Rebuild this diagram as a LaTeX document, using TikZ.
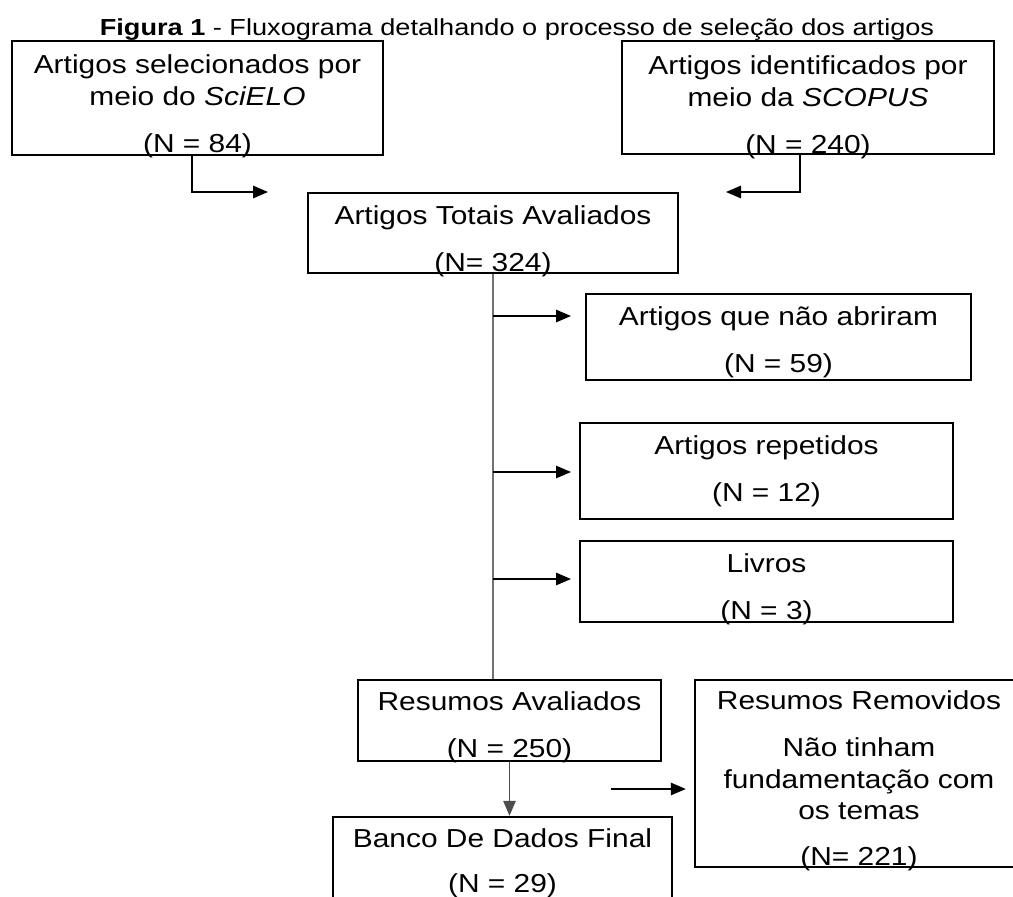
\documentclass[tikz,border=0pt]{standalone}
\usepackage{fontspec}
\setmainfont{Liberation Sans}
\usetikzlibrary{arrows.meta,positioning,calc}
\tikzset{
    >={Triangle[length=15pt,width=12.5pt]},
    caixa/.style={draw, line width=2.4pt, inner sep=0pt},
    texto/.style={anchor=north, inner sep=0pt, align=center, xscale=1.15,
        font=\fontsize{26}{31.5}\selectfont},
    seta/.style={->, line width=1.4pt},
    tronco/.style={line width=1.8pt, draw=black!55}
}
\begin{document}
\begin{tikzpicture}[x=1pt,y=-1pt]
    \useasboundingbox (0,0) rectangle (1013,897);
    \clip (0,0) rectangle (1013,897);

    \node[anchor=base, inner sep=0pt, xscale=1.17, font=\fontsize{23.2}{27}\selectfont] (titulo) at (517,35)
        {\textbf{Figura 1} - Fluxograma detalhando o processo de seleção dos artigos};

    % caixas
    \node[caixa, minimum width=371pt, minimum height=114pt] (scielo) at (197.5,98) {};
    \node[caixa, minimum width=372pt, minimum height=113pt] (scopus) at (808,97.5) {};
    \node[caixa, minimum width=370pt, minimum height=80pt] (totais) at (493,233) {};
    \node[caixa, minimum width=385pt, minimum height=86pt] (abriram) at (778.5,337) {};
    \node[caixa, minimum width=373pt, minimum height=96pt] (repetidos) at (766.5,471) {};
    \node[caixa, minimum width=373pt, minimum height=81pt] (livros) at (766.5,581.5) {};
    \node[caixa, minimum width=303pt, minimum height=81pt] (resumos) at (509.5,720.5) {};
    \node[caixa, minimum width=339pt, minimum height=88pt] (banco) at (502.5,861) {};
    \node[caixa, minimum width=328pt, minimum height=187pt] (removidos) at (859,773.5) {};

    % textos
    \node[texto] (scielo-t) at ([yshift=-15pt]scielo.north)
        {Artigos selecionados por\\meio do \textit{SciELO}\\[16pt](N = 84)};
    \node[texto] (scopus-t) at ([yshift=-16pt]scopus.north)
        {Artigos identificados por\\meio da \textit{SCOPUS}\\[16pt](N = 240)};
    \node[texto] (totais-t) at ([yshift=-14pt]totais.north)
        {Artigos Totais Avaliados\\[15.5pt](N= 324)};
    \node[texto] (abriram-t) at ([yshift=-14pt]abriram.north)
        {Artigos que não abriram\\[15.5pt](N = 59)};
    \node[texto] (repetidos-t) at ([yshift=-14pt]repetidos.north)
        {Artigos repetidos\\[15.5pt](N = 12)};
    \node[texto] (livros-t) at ([yshift=-14pt]livros.north)
        {Livros\\[15.5pt](N = 3)};
    \node[texto] (resumos-t) at ([yshift=-13pt]resumos.north)
        {Resumos Avaliados\\[15.5pt](N = 250)};
    \node[texto] (banco-t) at ([yshift=-13pt]banco.north)
        {Banco De Dados Final\\[13pt](N = 29)};
    \node[texto] (removidos-t) at ([yshift=-12pt]removidos.north)
        {Resumos Removidos\\[15.5pt]Não tinham\\fundamentação com\\os temas\\[14pt](N= 221)};

    % setas
    \coordinate (entA) at (268,192);
    \coordinate (entB) at (726,192);
    \draw[seta] ([xshift=-5.5pt]scielo.south) |- (entA);
    \draw[seta] ([xshift=-8pt]scopus.south) |- (entB);

    \draw[tronco] (totais.south) -- (totais.south |- resumos.north);
    \coordinate (pD) at (571,316);
    \coordinate (pE) at (571,472);
    \coordinate (pF) at (571,579);
    \foreach \p in {pD,pE,pF}
        \draw[seta] (totais.south |- \p) -- (\p);

    \draw[seta, draw=black!70, fill=black] (resumos.south) -- (resumos.south |- banco.north);

    \coordinate (livre) at (611,789);
    \draw[seta, shorten >=8pt] (livre) -- (livre -| removidos.west);
\end{tikzpicture}
\end{document}
